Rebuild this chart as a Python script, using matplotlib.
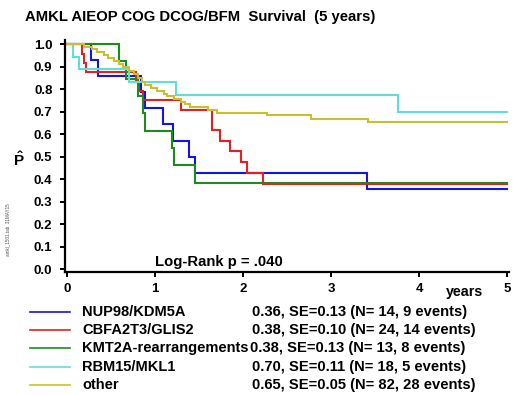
import matplotlib
matplotlib.use("Agg")
import matplotlib.pyplot as plt
from matplotlib.lines import Line2D

plt.rcParams['font.family'] = ['Liberation Sans', 'DejaVu Sans']
plt.rcParams['font.weight'] = 'bold'
plt.rcParams['mathtext.fontset'] = 'custom'
plt.rcParams['mathtext.bf'] = 'Liberation Sans:bold'
plt.rcParams['mathtext.rm'] = 'Liberation Sans:bold'

# ---------------- data ----------------
title = "AMKL AIEOP COG DCOG/BFM  Survival  (5 years)"
groups = ["NUP98/KDM5A", "CBFA2T3/GLIS2", "KMT2A-rearrangements", "RBM15/MKL1", "other"]
colors = ["#1414e6", "#ee1c1c", "#1c8c1c", "#5fe0d6", "#c8c030"]

final_surv = [0.36, 0.38, 0.38, 0.70, 0.65]
se = [0.13, 0.10, 0.13, 0.11, 0.05]
n_pat = [14, 24, 13, 18, 82]
n_events = [9, 14, 8, 5, 28]

follow_up_end = 5.0

nup_t = [0.27, 0.35, 0.84, 0.88, 1.09, 1.20, 1.39, 1.45, 3.41]
nup_s = [0.929, 0.857, 0.786, 0.714, 0.643, 0.571, 0.500, 0.429, 0.357]

cbf_t = [0.17, 0.19, 0.21, 0.78, 0.82, 0.86, 1.30, 1.65, 1.74, 1.855, 1.98, 2.04, 2.23]
cbf_s = [0.958, 0.917, 0.875, 0.833, 0.792, 0.750, 0.708, 0.619, 0.571, 0.524, 0.476, 0.429, 0.381]

kmt_t = [0.59, 0.67, 0.81, 0.86, 0.89, 1.19, 1.22, 1.45]
kmt_s = [0.923, 0.846, 0.769, 0.692, 0.615, 0.538, 0.462, 0.385]

rbm_t = [0.07, 0.14, 0.70, 1.24, 3.76]
rbm_s = [0.944, 0.889, 0.833, 0.774, 0.700]

oth_t = [0.19, 0.28, 0.34, 0.42, 0.47, 0.53, 0.59, 0.64, 0.70, 0.76, 0.81, 0.85, 0.89,
         0.95, 1.02, 1.10, 1.14, 1.22, 1.30, 1.34, 1.40, 1.60, 1.70, 2.27, 2.77, 3.42]
oth_s = [0.988, 0.976, 0.963, 0.951, 0.939, 0.927, 0.912, 0.897, 0.882, 0.866, 0.850, 0.832, 0.820,
         0.805, 0.790, 0.780, 0.770, 0.757, 0.745, 0.733, 0.720, 0.708, 0.696, 0.683, 0.669, 0.655]

curves = [(nup_t, nup_s), (cbf_t, cbf_s), (kmt_t, kmt_s), (rbm_t, rbm_s), (oth_t, oth_s)]

x_ticks = [0, 1, 2, 3, 4, 5]
y_ticks = [0.0, 0.1, 0.2, 0.3, 0.4, 0.5, 0.6, 0.7, 0.8, 0.9, 1.0]
logrank_text = "Log-Rank p = .040"
stamp = "amkl_1501.tab  31MAY15"

# ---------------- figure ----------------
W, H = 520, 395
fig = plt.figure(figsize=(W / 100, H / 100), dpi=100)
ax_l, ax_r, ax_b, ax_t = 65, 509, 272.3, 40
ax = fig.add_axes([ax_l / W, (H - ax_b) / H, (ax_r - ax_l) / W, (ax_b - ax_t) / H])

for (t, s), c in zip(curves, colors):
    xs = [0.0] + list(t) + [follow_up_end]
    ys = [1.0] + list(s) + [s[-1]]
    ax.step(xs, ys, where='post', color=c, lw=1.5, solid_joinstyle='miter')

ax.set_xlim(-0.023, 5.02)
ax.set_ylim(-0.013, 1.018)
ax.set_xticks(x_ticks)
ax.set_xticklabels([str(v) for v in x_ticks])
ax.set_yticks(y_ticks)
ax.set_yticklabels([f"{v:.1f}" for v in y_ticks])
for side in ['top', 'right']:
    ax.spines[side].set_visible(False)
for side in ['left', 'bottom']:
    ax.spines[side].set_linewidth(1.6)
ax.tick_params(axis='both', direction='out', length=3.5, width=1.4, labelsize=9.5)
ax.tick_params(axis='y', pad=5.5)
ax.tick_params(axis='x', pad=4)
for lab in ax.get_xticklabels() + ax.get_yticklabels():
    lab.set_fontweight('bold')

# text in pixel coords (origin top-left)
def ftext(x, y, s, **kw):
    fig.text(x / W, 1 - y / H, s, **kw)

ftext(155, 261.7, logrank_text, fontsize=10.7, fontweight='bold', va='center', ha='left')
ftext(25, 16.5, title, fontsize=10.7, fontweight='bold', va='center', ha='left')
ftext(19, 160, r'$\hat{\mathbf{P}}$', fontsize=11, va='center', ha='center')
ftext(465, 292, "years", fontsize=10.3, fontweight='bold', va='center', ha='center')
ftext(8, 230, stamp, fontsize=3.3, rotation=90, color='#555555', va='center', ha='center',
      fontweight='normal')

# legend
row_y = [311.7, 330.0, 348.3, 366.7, 385.0]
for i, g in enumerate(groups):
    y = row_y[i]
    fig.add_artist(Line2D([30 / W, 70 / W], [1 - y / H, 1 - y / H], color=colors[i], lw=1.2))
    ftext(82, y, g, fontsize=10.5, fontweight='bold', va='center', ha='left')
    st = f"{final_surv[i]:.2f}, SE={se[i]:.2f} (N= {n_pat[i]}, {n_events[i]} events)"
    ftext(252 if i != 2 else 250.5, y, st, fontsize=10.6, fontweight='bold', va='center', ha='left')

fig.savefig("out.png", dpi=100)
